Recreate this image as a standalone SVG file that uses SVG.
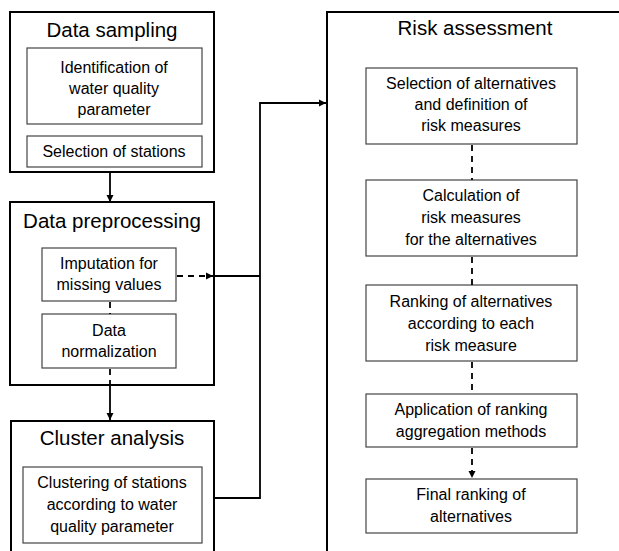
<svg xmlns="http://www.w3.org/2000/svg" width="619" height="551" viewBox="0 0 619 551">
<defs>
<style>
.outer{fill:#fff;stroke:#000;stroke-width:2}
.inner{fill:#fff;stroke:#444;stroke-width:1.2}
.title{font-family:"Liberation Sans",Arial,sans-serif;font-size:20.5px;fill:#000;text-anchor:middle}
.t{font-family:"Liberation Sans",Arial,sans-serif;font-size:16px;fill:#000;text-anchor:middle}
.line{fill:none;stroke:#000;stroke-width:1.8}
.dash{fill:none;stroke:#000;stroke-width:1.8;stroke-dasharray:6,5}
</style>
<marker id="ah" viewBox="0 0 10 10" refX="10" refY="5" markerWidth="4" markerHeight="4" orient="auto" markerUnits="strokeWidth">
<path d="M0,0 L10,5 L0,10 z" fill="#000"/>
</marker>
</defs>
<rect width="619" height="551" fill="#fff"/>
<g id="data-sampling">
<rect class="outer" x="10" y="12" width="204" height="160"/>
<text class="title" x="112" y="37">Data sampling</text>
<g id="identification">
<rect class="inner" x="27" y="48" width="175" height="76"/>
<text class="t" x="114" y="73">Identification of</text>
<text class="t" x="114" y="94">water quality</text>
<text class="t" x="114" y="115">parameter</text>
</g>
<g id="selection-stations">
<rect class="inner" x="27" y="136" width="175" height="31"/>
<text class="t" x="114" y="157">Selection of stations</text>
</g>
</g>
<g id="data-preprocessing">
<rect class="outer" x="10" y="202" width="204" height="183"/>
<text class="title" x="112" y="228">Data preprocessing</text>
<g id="imputation">
<rect class="inner" x="42" y="248" width="134" height="53"/>
<text class="t" x="109" y="269">Imputation for</text>
<text class="t" x="109" y="290">missing values</text>
</g>
<g id="normalization">
<rect class="inner" x="42" y="314" width="134" height="54"/>
<text class="t" x="109" y="336">Data</text>
<text class="t" x="109" y="357">normalization</text>
</g>
</g>
<g id="cluster-analysis">
<rect class="outer" x="11" y="421" width="203" height="140"/>
<text class="title" x="112" y="445">Cluster analysis</text>
<g id="clustering">
<rect class="inner" x="23" y="467" width="179" height="76"/>
<text class="t" x="112" y="488">Clustering of stations</text>
<text class="t" x="112" y="510">according to water</text>
<text class="t" x="112" y="532">quality parameter</text>
</g>
</g>
<g id="risk-assessment">
<rect class="outer" x="327" y="12" width="300" height="550"/>
<text class="title" x="475" y="35">Risk assessment</text>
<g id="selection-alternatives">
<rect class="inner" x="366" y="68" width="211" height="76"/>
<text class="t" x="471" y="89">Selection of alternatives</text>
<text class="t" x="471" y="110">and definition of</text>
<text class="t" x="471" y="131">risk measures</text>
</g>
<g id="calculation">
<rect class="inner" x="366" y="180" width="211" height="76"/>
<text class="t" x="471" y="201">Calculation of</text>
<text class="t" x="471" y="223">risk measures</text>
<text class="t" x="471" y="245">for the alternatives</text>
</g>
<g id="ranking">
<rect class="inner" x="366" y="285" width="211" height="76"/>
<text class="t" x="471" y="307">Ranking of alternatives</text>
<text class="t" x="471" y="329">according to each</text>
<text class="t" x="471" y="351">risk measure</text>
</g>
<g id="aggregation">
<rect class="inner" x="366" y="394" width="211" height="53"/>
<text class="t" x="471" y="415">Application of ranking</text>
<text class="t" x="471" y="437">aggregation methods</text>
</g>
<g id="final-ranking">
<rect class="inner" x="366" y="479" width="211" height="54"/>
<text class="t" x="471" y="500">Final ranking of</text>
<text class="t" x="471" y="522">alternatives</text>
</g>
</g>
<g id="connectors">
<line class="line" x1="110" y1="172" x2="110" y2="202" marker-end="url(#ah)"/>
<line class="line" x1="110" y1="385" x2="110" y2="420" marker-end="url(#ah)"/>
<line class="dash" x1="110" y1="302" x2="110" y2="314"/>
<line class="dash" x1="110" y1="369" x2="110" y2="385"/>
<line class="dash" x1="177" y1="276" x2="213" y2="276" marker-end="url(#ah)"/>
<line class="line" x1="213" y1="276" x2="260" y2="276"/>
<polyline class="line" points="214,498 260,498 260,103 326,103" marker-end="url(#ah)"/>
<line class="dash" x1="472" y1="145" x2="472" y2="180"/>
<line class="dash" x1="472" y1="257" x2="472" y2="285"/>
<line class="dash" x1="472" y1="362" x2="472" y2="394"/>
<line class="dash" x1="472" y1="448" x2="472" y2="478" marker-end="url(#ah)"/>
</g>
</svg>
